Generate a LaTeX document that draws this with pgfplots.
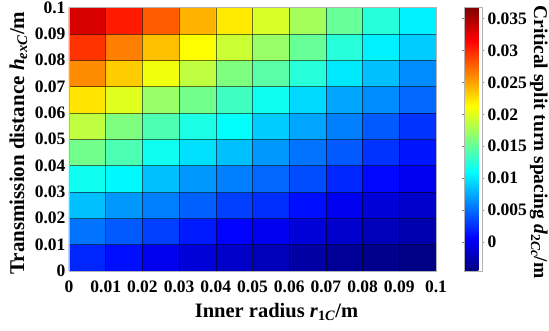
\documentclass[border=0pt]{standalone}
\usepackage{fontspec}
\setmainfont{Liberation Serif}
\usepackage{pgfplots}
\usepackage{pgfplotstable}
\pgfplotsset{compat=1.18}
\pgfplotstableread{
x y c
0.005 0.005 0.0022
0.015 0.005 0.0012
0.025 0.005 -0.0001
0.035 0.005 -0.0009
0.045 0.005 -0.0016
0.055 0.005 -0.0022
0.065 0.005 -0.0030
0.075 0.005 -0.0035
0.085 0.005 -0.0040
0.095 0.005 -0.0043
0.005 0.015 0.0053
0.015 0.015 0.0043
0.025 0.015 0.0032
0.035 0.015 0.0017
0.045 0.015 0.0007
0.055 0.015 0.0001
0.065 0.015 -0.0009
0.075 0.015 -0.0014
0.085 0.015 -0.0022
0.095 0.015 -0.0026
0.005 0.025 0.0084
0.015 0.025 0.0068
0.025 0.025 0.0058
0.035 0.025 0.0045
0.045 0.025 0.0032
0.055 0.025 0.0025
0.065 0.025 0.0012
0.075 0.025 0.0001
0.085 0.025 -0.0009
0.095 0.025 -0.0014
0.005 0.035 0.0115
0.015 0.035 0.0107
0.025 0.035 0.0084
0.035 0.035 0.0068
0.045 0.035 0.0058
0.055 0.035 0.0048
0.065 0.035 0.0037
0.075 0.035 0.0022
0.085 0.035 0.0009
0.095 0.035 0.0001
0.005 0.045 0.0156
0.015 0.045 0.0140
0.025 0.045 0.0115
0.035 0.045 0.0097
0.045 0.045 0.0084
0.055 0.045 0.0068
0.065 0.045 0.0053
0.075 0.045 0.0043
0.085 0.045 0.0027
0.095 0.045 0.0015
0.005 0.055 0.0187
0.015 0.055 0.0161
0.025 0.055 0.0140
0.035 0.055 0.0120
0.045 0.055 0.0110
0.055 0.055 0.0089
0.065 0.055 0.0073
0.075 0.055 0.0058
0.085 0.055 0.0043
0.095 0.055 0.0027
0.005 0.065 0.0223
0.015 0.065 0.0200
0.025 0.065 0.0171
0.035 0.065 0.0156
0.045 0.065 0.0135
0.055 0.065 0.0115
0.065 0.065 0.0094
0.075 0.065 0.0073
0.085 0.065 0.0063
0.095 0.065 0.0048
0.005 0.075 0.0259
0.015 0.075 0.0233
0.025 0.075 0.0207
0.035 0.075 0.0187
0.045 0.075 0.0161
0.055 0.075 0.0146
0.065 0.075 0.0125
0.075 0.075 0.0101
0.085 0.075 0.0084
0.095 0.075 0.0063
0.005 0.085 0.0295
0.015 0.085 0.0264
0.025 0.085 0.0238
0.035 0.085 0.0213
0.045 0.085 0.0192
0.055 0.085 0.0171
0.065 0.085 0.0151
0.075 0.085 0.0125
0.085 0.085 0.0104
0.095 0.085 0.0089
0.005 0.095 0.0331
0.015 0.095 0.0305
0.025 0.095 0.0279
0.035 0.095 0.0243
0.045 0.095 0.0221
0.055 0.095 0.0197
0.065 0.095 0.0176
0.075 0.095 0.0151
0.085 0.095 0.0125
0.095 0.095 0.0104
}\datatable
\pgfplotsset{
  every tick label/.append style={font=\fontsize{17.5}{20}\selectfont\bfseries},
}
\begin{document}
\begin{tikzpicture}
\begin{axis}[
  name=ax,
  scale only axis, width=367pt, height=263.5pt,
  xmin=0, xmax=0.1, ymin=0, ymax=0.1,
  xtick={0,0.01,0.02,0.03,0.04,0.05,0.06,0.07,0.08,0.09,0.1},
  xticklabels={0,0.01,0.02,0.03,0.04,0.05,0.06,0.07,0.08,0.09,0.1},
  ytick={0,0.01,0.02,0.03,0.04,0.05,0.06,0.07,0.08,0.09,0.1},
  yticklabels={0,0.01,0.02,0.03,0.04,0.05,0.06,0.07,0.08,0.09,0.1},
  scaled ticks=false,
  major tick length=0pt,
  axis on top, grid=major,
  major grid style={black, opacity=0.55, line width=0.45pt},
  axis line style={gray!60},
  xticklabel style={yshift=-6pt},
  xlabel={Inner radius \textit{r}\textsubscript{1\textit{C}}/m},
  xlabel style={font=\fontsize{20.5}{23}\selectfont\bfseries,
    at={(axis description cs:0.5654,-0.1746)}, anchor=base},
  ylabel={Transmission distance \textit{h}\textsubscript{\textit{exC}}/m},
  ylabel style={font=\fontsize{21}{24}\selectfont\bfseries,
    at={(axis description cs:-0.1226,0.485)}, anchor=base},
  colormap/jet,
  point meta min=-0.0045, point meta max=0.0367,
  colorbar,
  colorbar style={
    scale only axis, width=18pt, height=263.5pt,
    at={(parent axis.north east)}, anchor=north west, xshift=19.5pt,
    ytick={0,0.005,0.01,0.015,0.02,0.025,0.03,0.035},
    yticklabels={0,0.005,0.01,0.015,0.02,0.025,0.03,0.035},
    scaled ticks=false,
    major tick length=2pt, tick align=outside,
    tick style={gray},
    axis line style={gray!60},
    ylabel={Critical split turn spacing \textit{d}\textsubscript{2\textit{Cc}}/m},
    ylabel style={rotate=180, font=\fontsize{19.5}{22}\selectfont\bfseries,
      at={(axis description cs:3.9,0.49)}, anchor=base},
  },
]
\addplot[matrix plot*, mesh/cols=10, point meta=explicit] table[x=x, y=y, meta=c] {\datatable};
\end{axis}
\pgfresetboundingbox
\path[use as bounding box] ([shift={(-69pt,-59pt)}]ax.south west) rectangle ([shift={(480pt,271pt)}]ax.south west);
\end{tikzpicture}
\end{document}
